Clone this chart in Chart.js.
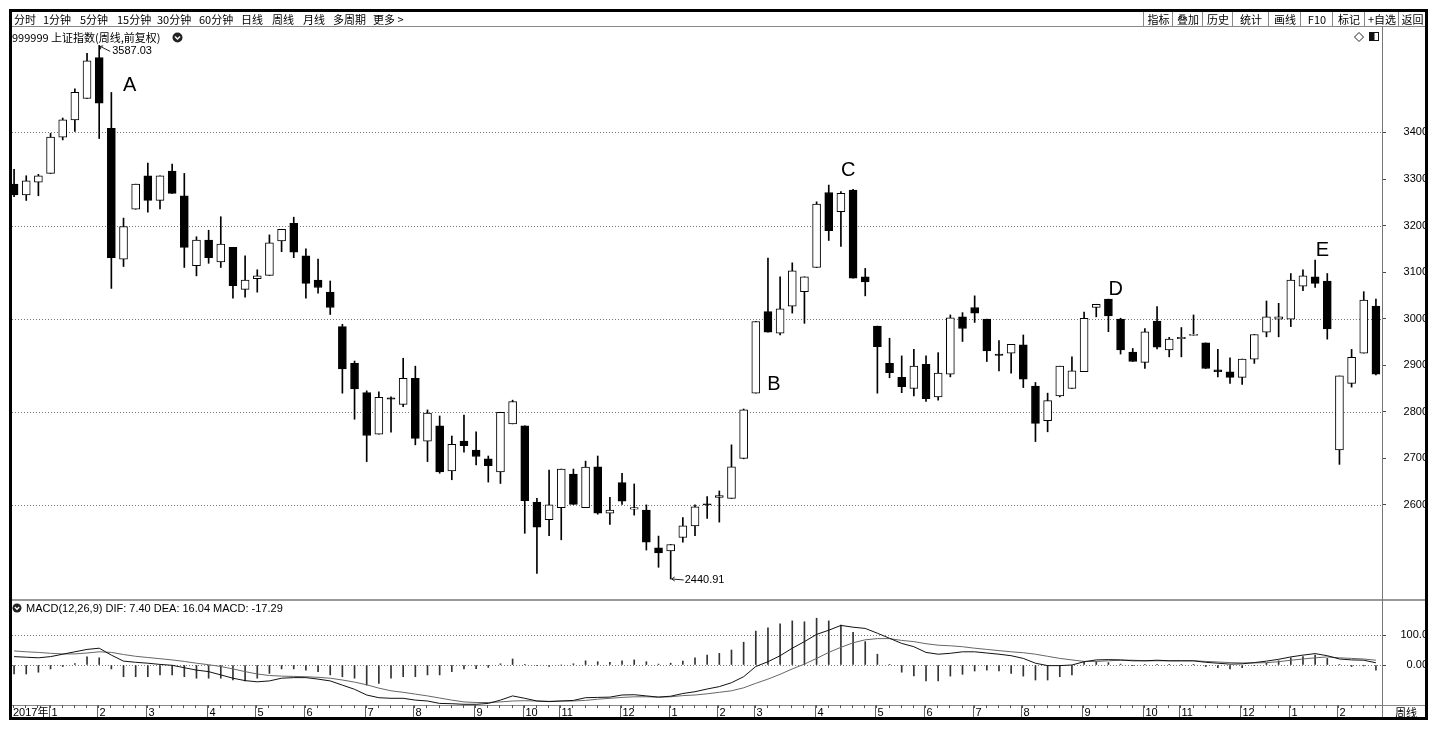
<!DOCTYPE html>
<html>
<head>
<meta charset="utf-8">
<script src="https://cdn.jsdelivr.net/npm/chart.js@4.4.1/dist/chart.umd.min.js"></script>
<style>
  body { margin: 0; width: 1442px; height: 737px; background: #fff; overflow: hidden; position: relative;
         font-family: "Noto Sans CJK SC", "Liberation Sans", sans-serif; font-size: 11px; color: #000; }
  .abs { position: absolute; }
  #frame { left: 9px; top: 9px; width: 1419px; height: 711px; box-sizing: border-box; border: 3px solid #000; z-index: 9; }
  .tb { position: absolute; top: 12px; line-height: 14px; white-space: nowrap; z-index: 6; }
  .btn { position: absolute; top: 12px; height: 14px; line-height: 14px; text-align: center; border-left: 1px solid #888; z-index: 6; }
  canvas { position: absolute; }
</style>
</head>
<body>
<div id="frame" class="abs"></div>
<div class="abs" style="left:12px;top:26px;width:1413px;height:1px;background:#888;z-index:6"></div>
<div class="abs" style="left:12px;top:599px;width:1413px;height:2px;background:#999;z-index:6"></div>
<div class="abs" style="left:1382px;top:26px;width:1px;height:692px;background:#777;z-index:6"></div>

<div class="abs" id="title" style="left:12px;top:30px;line-height:14px;z-index:6">999999 上证指数(周线,前复权)</div>
<svg class="abs" style="left:172px;top:32px;z-index:6" width="11" height="11"><circle cx="5.5" cy="5.5" r="5" fill="#222"/><path d="M3 4.5 L5.5 7 L8 4.5" stroke="#fff" stroke-width="1.4" fill="none"/></svg>
<svg class="abs" style="left:1353px;top:31px;z-index:6" width="12" height="12"><path d="M6 1.5 L10.5 6 L6 10.5 L1.5 6 Z" stroke="#222" stroke-width="1" fill="none"/></svg>
<svg class="abs" style="left:1369px;top:32px;z-index:6" width="11" height="10"><rect x="0.5" y="0.5" width="9" height="8" stroke="#111" fill="#fff"/><rect x="0.5" y="0.5" width="5" height="8" fill="#111"/></svg>

<svg class="abs" style="left:12px;top:603px;z-index:6" width="10" height="10"><circle cx="5" cy="5" r="4.5" fill="#222"/><path d="M2.8 4 L5 6.3 L7.2 4" stroke="#fff" stroke-width="1.3" fill="none"/></svg>
<div class="abs" id="macdTitle" style="left:26px;top:601px;line-height:14px;z-index:6;font-family:'Liberation Sans',Arial,sans-serif"></div>

<canvas id="kline" width="1420" height="570" style="left:8px;top:28px"></canvas>
<canvas id="macd" width="1420" height="118" style="left:8px;top:600px"></canvas>

<script>
// ----------------------
// DATA (weekly candles)
// ----------------------
const weeks = Array.from({ length: 113 }, (_, i) => i + 1);

const openP = [
  3289, 3266, 3293, 3312, 3390, 3427, 3473, 3561, 3409, 3128,
  3235, 3307, 3254, 3317, 3264, 3114, 3169, 3122, 3153, 3063,
  3086, 3093, 3167, 3205, 3135, 3083, 3057, 2983, 2904, 2841,
  2752, 2830, 2816, 2872, 2737, 2770, 2673, 2737, 2718, 2699,
  2671, 2774, 2770, 2606, 2568, 2594, 2666, 2594, 2682, 2582,
  2648, 2591, 2589, 2508, 2501, 2530, 2555, 2602, 2616, 2614,
  2700, 2840, 3015, 2969, 3027, 3058, 3110, 3271, 3230, 3276,
  3090, 2984, 2904, 2874, 2850, 2902, 2832, 2881, 3004, 3024,
  2999, 2924, 2926, 2944, 2855, 2781, 2834, 2850, 2886, 3024,
  3042, 2999, 2928, 2906, 2995, 2933, 2957, 2964, 2948, 2890,
  2886, 2874, 2913, 2971, 2999, 2999, 3070, 3090, 3081, 2718,
  2861, 2926, 3027
];
const highP = [
  3321, 3307, 3310, 3398, 3431, 3494, 3570, 3587.03, 3486, 3216,
  3289, 3334, 3307, 3332, 3312, 3176, 3190, 3219, 3153, 3135,
  3105, 3180, 3192, 3218, 3150, 3128, 3081, 2988, 2909, 2845,
  2843, 2832, 2915, 2898, 2804, 2791, 2748, 2793, 2757, 2705,
  2799, 2825, 2770, 2614, 2675, 2677, 2677, 2694, 2705, 2616,
  2668, 2645, 2600, 2533, 2515, 2573, 2600, 2618, 2630, 2729,
  2806, 2994, 3130, 3090, 3120, 3090, 3251, 3287, 3273, 3278,
  3108, 2984, 2958, 2920, 2934, 2920, 2927, 3008, 3013, 3049,
  2999, 2953, 2945, 2965, 2863, 2840, 2898, 2918, 3014, 3031,
  3042, 3001, 2936, 2979, 3026, 2960, 2981, 3008, 2948, 2934,
  2916, 2913, 2966, 3038, 3033, 3097, 3105, 3126, 3097, 2877,
  2934, 3058, 3042
];
const lowP = [
  3262, 3254, 3264, 3312, 3384, 3402, 3473, 3387, 3065, 3112,
  3235, 3229, 3236, 3269, 3110, 3092, 3119, 3110, 3044, 3046,
  3057, 3093, 3144, 3131, 3044, 3055, 3009, 2840, 2784, 2693,
  2752, 2756, 2811, 2729, 2693, 2668, 2654, 2713, 2686, 2649,
  2646, 2774, 2539, 2453, 2534, 2525, 2601, 2594, 2580, 2558,
  2601, 2578, 2503, 2466, 2440.91, 2520, 2534, 2571, 2563, 2614,
  2699, 2840, 2971, 2965, 3012, 2990, 3110, 3168, 3155, 3087,
  3049, 2840, 2873, 2841, 2834, 2822, 2825, 2875, 2951, 2992,
  2908, 2888, 2883, 2852, 2736, 2757, 2832, 2850, 2886, 3004,
  2972, 2924, 2908, 2893, 2935, 2918, 2918, 2964, 2893, 2875,
  2861, 2859, 2904, 2961, 2961, 2983, 3060, 3067, 2956, 2687,
  2853, 2926, 2879
];
const closeP = [
  3266, 3296, 3307, 3390, 3427, 3486, 3554, 3463, 3131, 3198,
  3289, 3254, 3307, 3269, 3153, 3169, 3131, 3160, 3071, 3083,
  3092, 3163, 3192, 3143, 3076, 3067, 3024, 2892, 2849, 2749,
  2831, 2827, 2872, 2743, 2797, 2671, 2730, 2727, 2704, 2684,
  2799, 2822, 2609, 2552, 2600, 2677, 2601, 2681, 2582, 2589,
  2608, 2594, 2520, 2497, 2515, 2555, 2596, 2600, 2620, 2682,
  2804, 2994, 2971, 3021, 3103, 3090, 3246, 3189, 3269, 3087,
  3079, 2940, 2884, 2854, 2898, 2828, 2883, 3002, 2979, 3012,
  2931, 2921, 2945, 2870, 2775, 2824, 2898, 2888, 3001, 3031,
  3006, 2933, 2908, 2972, 2939, 2956, 2960, 2966, 2893, 2886,
  2874, 2913, 2966, 3004, 3004, 3083, 3092, 3076, 2978, 2877,
  2917, 3040, 2881
];

// MACD(12,26,9)
const difV = [
  28, 26, 24, 28, 36, 44, 52, 56, 33, 13,
  9, 6, 2, -1, -9, -17, -22, -33, -44, -52,
  -56, -53, -44, -42, -42, -47, -53, -67, -81, -100,
  -109, -111, -111, -117, -120, -128, -129, -131, -131, -128,
  -117, -103, -111, -120, -122, -120, -118, -109, -108, -107,
  -100, -99, -103, -107, -104, -95, -89, -80, -72, -59,
  -39, -5, 11, 31, 56, 78, 102, 116, 132, 126,
  122, 106, 89, 72, 61, 42, 36, 39, 44, 44,
  40, 36, 31, 22, 6, -2, -2, 0, 11, 17,
  18, 17, 14, 14, 16, 14, 14, 14, 9, 6,
  3, 4, 8, 13, 19, 27, 33, 38, 31, 20,
  17, 16, 7.40
];
const deaV = [
  47, 44, 42, 39, 37, 37, 40, 44, 42, 35,
  29, 25, 21, 17, 12, 6, 1, -5, -13, -22,
  -30, -35, -37, -38, -39, -41, -44, -50, -57, -66,
  -77, -86, -91, -97, -103, -110, -117, -123, -125, -125,
  -123, -120, -119, -120, -121, -120, -120, -118, -114, -111,
  -108, -106, -106, -107, -106, -102, -100, -96, -91, -86,
  -76, -61, -47, -31, -13, 3, 22, 42, 59, 74,
  84, 88, 88, 82, 78, 71, 66, 64, 61, 56,
  52, 48, 44, 41, 36, 29, 22, 17, 12, 12,
  14, 16, 16, 14, 14, 14, 14, 14, 12, 10,
  8, 7, 7, 8, 11, 16, 20, 24, 27, 24,
  22, 20, 16.04
];
const macdV = [
  -30, -30, -24, -13, -5, 5, 27, 24, -13, -39,
  -39, -39, -33, -33, -39, -44, -44, -44, -50, -53,
  -44, -28, -13, -13, -17, -22, -33, -39, -44, -67,
  -61, -44, -39, -39, -33, -33, -22, -13, -12, -8,
  4, 20, 2, -2, -5, 0, 4, 14, 11, 9,
  14, 17, 11, 3, 6, 13, 24, 33, 39, 50,
  76, 113, 124, 137, 147, 144, 156, 147, 133, 109,
  78, 36, 2, -24, -36, -53, -53, -37, -31, -20,
  -17, -20, -28, -37, -50, -50, -39, -33, 9, 11,
  8, 3, -1, 1, 2, 1, 1, 1, -5, -9,
  -13, -9, -2, 6, 14, 24, 28, 33, 22, 2,
  -5, -3, -17.29
];

const priceTicks = [2600, 2700, 2800, 2900, 3000, 3100, 3200, 3300, 3400];
const macdTicks = [0, 100];
const monthIdx = [3, 7, 11, 16, 20, 24, 29, 33, 38, 42, 45, 50, 54, 58, 61, 66, 71, 75, 79, 83, 88, 93, 96, 101, 105, 109];
const monthText = ["1", "2", "3", "4", "5", "6", "7", "8", "9", "10", "11", "12", "1", "2", "3", "4", "5", "6", "7", "8", "9", "10", "11", "12", "1", "2"];
const yearText = "2017年";
const waveMarks = ["A", "B", "C", "D", "E"];
const waveAt = [9.5, 62.5, 68.6, 90.6, 107.6];
const wavePrice = [3500, 2858, 3319, 3062, 3146];

// ----------------------
// TOOLBAR
// ----------------------
const tabs = ["分时", "1分钟", "5分钟", "15分钟", "30分钟", "60分钟", "日线", "周线", "月线", "多周期", "更多 >"];
const tabX = [14, 43, 80, 117, 157, 199, 241, 272, 303, 333, 373];
tabs.forEach((t, i) => {
  const s = document.createElement("div");
  s.className = "tb";
  s.style.left = tabX[i] + "px";
  s.textContent = t;
  document.body.appendChild(s);
});

const buttons = ["指标", "叠加", "历史", "统计", "画线", "F10", "标记", "+自选", "返回"];
const btnEdge = [1143, 1172, 1202, 1232, 1268, 1300, 1332, 1364, 1398, 1425];
buttons.forEach((t, i) => {
  const b = document.createElement("div");
  b.className = "btn";
  b.style.left = btnEdge[i] + "px";
  b.style.width = (btnEdge[i + 1] - btnEdge[i]) + "px";
  b.textContent = t;
  document.body.appendChild(b);
});

document.getElementById("macdTitle").textContent =
  `MACD(12,26,9) DIF: ${difV.at(-1).toFixed(2)} DEA: ${deaV.at(-1).toFixed(2)} MACD: ${macdV.at(-1).toFixed(2)}`;

// ----------------------
// HELPERS
// ----------------------
const numFont = "Liberation Sans";
const measureCtx = document.createElement("canvas").getContext("2d");
function textWidth(txt) {
  measureCtx.font = `11px ${numFont}`;
  return measureCtx.measureText(txt).width;
}
function dottedLine(ctx, x1, x2, y) {
  ctx.beginPath();
  ctx.moveTo(x1, y);
  ctx.lineTo(x2, y);
  ctx.stroke();
}
// fixed axis width, and no extra vertical padding reserved for tick labels
function fitAxis(s) {
  s.width = 46;
  s.paddingTop = 0;
  s.paddingBottom = 0;
}

// ----------------------
// PRICE PANEL
// ----------------------
const pricePlugin = {
  id: "priceDecor",
  beforeDatasetsDraw(chart) {
    const { ctx, chartArea, scales: { y } } = chart;
    ctx.save();
    ctx.strokeStyle = "#777";
    ctx.lineWidth = 1;
    ctx.setLineDash([1, 2]);
    priceTicks.filter((v) => v % 200 === 0).forEach((v) => {
      dottedLine(ctx, 4, chartArea.right, Math.round(y.getPixelForValue(v)) + 0.5);
    });
    ctx.restore();
  },
  afterDatasetsDraw(chart) {
    const { ctx, scales: { x, y } } = chart;
    ctx.save();
    ctx.fillStyle = "#000";
    ctx.strokeStyle = "#222";
    ctx.lineWidth = 1;
    ctx.font = `11px ${numFont}`;
    ctx.textBaseline = "middle";
    ctx.textAlign = "left";

    // highest high
    const hi = Math.max(...highP);
    const hiI = highP.indexOf(hi);
    const hx = x.getPixelForValue(hiI), hy = y.getPixelForValue(hi);
    ctx.beginPath();
    ctx.moveTo(hx + 1, hy + 1);
    ctx.lineTo(hx + 11, hy + 6);
    ctx.moveTo(hx + 1, hy + 1);
    ctx.lineTo(hx + 1.5, hy + 4);
    ctx.moveTo(hx + 1, hy + 1);
    ctx.lineTo(hx + 4, hy + 0.5);
    ctx.stroke();
    ctx.fillText(hi.toFixed(2), hx + 13, hy + 6);

    // lowest low
    const lo = Math.min(...lowP);
    const loI = lowP.indexOf(lo);
    const lx = x.getPixelForValue(loI), ly = y.getPixelForValue(lo);
    ctx.beginPath();
    ctx.moveTo(lx + 1, ly);
    ctx.lineTo(lx + 13, ly + 1);
    ctx.moveTo(lx + 1, ly);
    ctx.lineTo(lx + 4, ly - 2);
    ctx.moveTo(lx + 1, ly);
    ctx.lineTo(lx + 4, ly + 2);
    ctx.stroke();
    ctx.fillText(lo.toFixed(2), lx + 14, ly + 1);

    // wave letters
    ctx.font = `20px ${numFont}`;
    ctx.textAlign = "center";
    waveMarks.forEach((m, k) => {
      ctx.fillText(m, x.getPixelForValue(waveAt[k]), y.getPixelForValue(wavePrice[k]));
    });
    ctx.restore();
  },
};

new Chart(document.getElementById("kline"), {
  type: "bar",
  data: {
    labels: weeks,
    datasets: [
      {
        data: openP.map((o, i) => [o, closeP[i]]),
        backgroundColor: (c) => (closeP[c.dataIndex] < openP[c.dataIndex] ? "#000" : "#fff"),
        borderColor: "#000",
        borderWidth: 1,
        borderSkipped: false,
        barThickness: 8,
        minBarLength: 1,
        grouped: false,
      },
      {
        data: lowP.map((l, i) => [l, highP[i]]),
        backgroundColor: "#000",
        barThickness: 1,
        grouped: false,
      },
    ],
  },
  options: {
    responsive: false,
    animation: false,
    events: [],
    layout: { padding: 0 },
    plugins: { legend: { display: false }, tooltip: { enabled: false } },
    scales: {
      x: { display: false, offset: true },
      y: {
        position: "right",
        min: 2400,
        max: 3624.4,
        afterBuildTicks: (s) => { s.ticks = priceTicks.map((v) => ({ value: v })); },
        afterFit: fitAxis,
        grid: { drawOnChartArea: false, drawTicks: true, tickLength: 4, tickColor: "#444" },
        border: { display: true, color: "#777" },
        ticks: {
          color: "#000",
          font: { family: numFont, size: 11 },
          crossAlign: "far",
          padding: 43 - 4 - textWidth("3400"),
          callback: (v) => String(v),
        },
      },
    },
  },
  plugins: [pricePlugin],
});

// ----------------------
// MACD PANEL + WEEK AXIS
// ----------------------
const macdPlugin = {
  id: "macdDecor",
  beforeDatasetsDraw(chart) {
    const { ctx, chartArea, scales: { y } } = chart;
    ctx.save();
    ctx.strokeStyle = "#777";
    ctx.lineWidth = 1;
    ctx.setLineDash([1, 2]);
    macdTicks.forEach((v) => dottedLine(ctx, 4, chartArea.right, Math.round(y.getPixelForValue(v)) + 0.5));
    ctx.restore();
  },
  afterDraw(chart) {
    const { ctx, chartArea, scales: { x } } = chart;
    const top = chartArea.bottom;
    ctx.save();
    ctx.strokeStyle = "#888";
    ctx.lineWidth = 1;
    ctx.beginPath();
    ctx.moveTo(4, Math.round(top) + 0.5);
    ctx.lineTo(chart.width, Math.round(top) + 0.5);
    ctx.stroke();

    // weekly minor ticks
    ctx.strokeStyle = "#555";
    ctx.beginPath();
    weeks.forEach((w, i) => {
      const px = Math.round(x.getPixelForValue(i)) - 0.5;
      ctx.moveTo(px, top);
      ctx.lineTo(px, top + 3);
    });
    ctx.stroke();

    // month ticks + labels
    ctx.strokeStyle = "#666";
    ctx.fillStyle = "#000";
    ctx.font = `11px ${numFont}, "Noto Sans CJK SC"`;
    ctx.textBaseline = "middle";
    ctx.textAlign = "left";
    const ly = top + 7.5;
    monthIdx.forEach((idx, k) => {
      const px = Math.round(x.getPixelForValue(idx)) - 1.5;
      ctx.beginPath();
      ctx.moveTo(px, top);
      ctx.lineTo(px, chart.height);
      ctx.stroke();
      ctx.fillText(monthText[k], px + 2, ly);
    });
    ctx.fillText(yearText, 5, ly);

    // period tag at bottom right
    ctx.font = `11px "Noto Sans CJK SC"`;
    ctx.fillText("周线", 1387, ly);
    ctx.restore();
  },
};

new Chart(document.getElementById("macd"), {
  data: {
    labels: weeks,
    datasets: [
      { type: "line", data: difV, borderColor: "#111", borderWidth: 1, pointRadius: 0, tension: 0 },
      { type: "line", data: deaV, borderColor: "#666", borderWidth: 1, pointRadius: 0, tension: 0 },
      { type: "bar", data: macdV, backgroundColor: "#333", barThickness: 1 },
    ],
  },
  options: {
    responsive: false,
    animation: false,
    events: [],
    layout: { padding: { bottom: 13 } },
    plugins: { legend: { display: false }, tooltip: { enabled: false } },
    scales: {
      x: { display: false, offset: true },
      y: {
        position: "right",
        min: -133.3,
        max: 216.7,
        afterBuildTicks: (s) => { s.ticks = macdTicks.map((v) => ({ value: v })); },
        afterFit: fitAxis,
        grid: { drawOnChartArea: false, drawTicks: true, tickLength: 4, tickColor: "#444" },
        border: { display: true, color: "#777" },
        ticks: {
          color: "#000",
          font: { family: numFont, size: 11 },
          crossAlign: "far",
          padding: 43 - 4 - textWidth("100.0"),
          callback: (v) => (v === 0 ? "0.00" : "100.0"),
        },
      },
    },
  },
  plugins: [macdPlugin],
});
</script>
</body>
</html>
